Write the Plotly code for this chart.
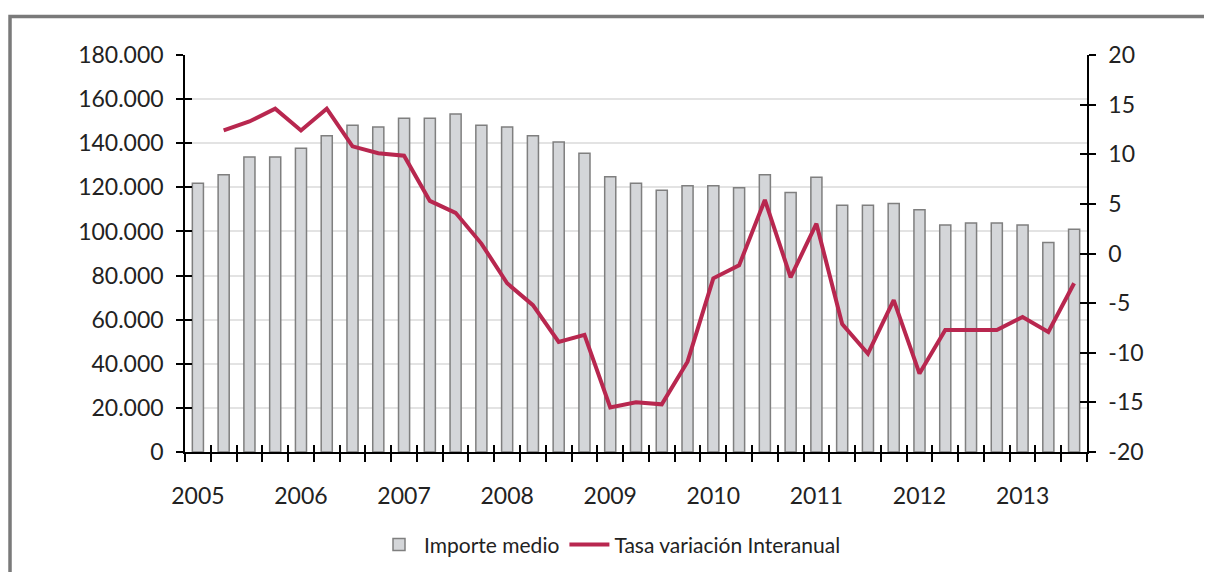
import plotly.graph_objects as go

# Quarterly periods 2005Q1 .. 2013Q3
periods = [f"{y}T{q}" for y in range(2005, 2014) for q in range(1, 5)][:35]
year_labels = ["2005", "2006", "2007", "2008", "2009", "2010", "2011", "2012", "2013"]

importe_medio = [121800, 125700, 133700, 133700, 137700, 143400, 148200, 147300,
                 151300, 151300, 153200, 148200, 147300, 143400, 140500, 135400,
                 124800, 121800, 118700, 120700, 120700, 119800, 125700, 117700,
                 124600, 111900, 111900, 112700, 109800, 102900, 103800, 103800,
                 102900, 95000, 101000]

# Year-on-year rate (starts at the second period)
tasa_var = [None, 12.4, 13.3, 14.6, 12.4, 14.6, 10.8, 10.1, 9.85, 5.3, 4.1, 1.0,
            -3.0, -5.2, -8.9, -8.2, -15.5, -15.0, -15.2, -10.9, -2.5, -1.2, 5.4,
            -2.4, 3.0, -7.1, -10.1, -4.7, -12.1, -7.7, -7.7, -7.7, -6.4, -7.9, -3.0]

left_ticks = [0, 20000, 40000, 60000, 80000, 100000, 120000, 140000, 160000, 180000]
right_ticks = [-20, -15, -10, -5, 0, 5, 10, 15, 20]
right_labels = ["-20", "-15", "-10", "-5", "0", "5", "10", "15", "20"]

idx = list(range(len(periods)))
year_pos = [i for i in idx if periods[i].endswith("T1")]
boundaries = [i - 0.5 for i in idx] + [len(idx) - 0.5]
xr = [-0.5, len(idx) - 0.5]

FONT = "Lato"
BAR_FILL = "#d4d6d9"
BAR_LINE = "#7f7f7f"
LINE_COL = "#b8274f"

fig = go.Figure()
fig.add_trace(go.Bar(x=idx, y=importe_medio, name="Importe medio",
                     marker=dict(color=BAR_FILL, line=dict(color=BAR_LINE, width=1.5)),
                     width=0.43, xaxis="x", yaxis="y"))
fig.add_trace(go.Scatter(x=idx, y=tasa_var, name="Tasa variación Interanual",
                         mode="lines", line=dict(color=LINE_COL, width=4),
                         xaxis="x", yaxis="y2", connectgaps=False))
# helper empty traces so the tick-only overlay axes get drawn
for xa, ya in [("x2", "y"), ("x3", "y"), ("x", "y3"), ("x", "y4")]:
    fig.add_trace(go.Scatter(x=[None], y=[None], xaxis=xa, yaxis=ya,
                             showlegend=False, hoverinfo="skip", mode="lines"))

tickfont = dict(family=FONT, size=23, color="#222222")

fig.update_layout(
    width=1204, height=564,
    margin=dict(l=177, r=125, t=47, b=120),
    paper_bgcolor="white", plot_bgcolor="white",
    separators=",.",
    showlegend=True,
    legend=dict(orientation="h", x=0.5, xanchor="center", xref="container",
                y=0.048, yanchor="middle", yref="container",
                font=dict(family=FONT, size=21, color="#222222"),
                itemwidth=40, tracegroupgap=0),
    xaxis=dict(range=xr, tickmode="array", tickvals=year_pos, ticktext=year_labels,
               ticks="", showgrid=False, zeroline=False, showline=True,
               linecolor="black", linewidth=1.5, tickfont=tickfont,
               ticklabelstandoff=23),
    xaxis2=dict(range=xr, overlaying="x", anchor="y", side="bottom",
                tickmode="array", tickvals=boundaries, ticks="outside", ticklen=9,
                tickwidth=1.5, tickcolor="black", showticklabels=False,
                showgrid=False, zeroline=False, showline=False),
    xaxis3=dict(range=xr, overlaying="x", anchor="y", side="bottom",
                tickmode="array", tickvals=boundaries, ticks="inside", ticklen=7,
                tickwidth=1.5, tickcolor="black", showticklabels=False,
                showgrid=False, zeroline=False, showline=False),
    yaxis=dict(range=[0, 180000], tickmode="array", tickvals=left_ticks,
               tickformat=",d", ticks="outside", ticklen=7, tickwidth=1.5,
               tickcolor="black", showline=True, linecolor="black", linewidth=1.5,
               showgrid=True, gridcolor="#e3e3e3", gridwidth=1.5, zeroline=False,
               tickfont=tickfont, ticklabelstandoff=8),
    yaxis2=dict(range=[-20, 20], overlaying="y", side="right", anchor="x",
                tickmode="array", tickvals=right_ticks, ticktext=right_labels,
                ticks="outside", ticklen=7,
                tickwidth=1.5, tickcolor="black", showline=True, linecolor="black",
                linewidth=1.5, showgrid=False, zeroline=False, tickfont=tickfont,
                ticklabelstandoff=8),
    yaxis3=dict(range=[0, 180000], overlaying="y", side="left", anchor="x",
                tickmode="array", tickvals=left_ticks, ticks="inside", ticklen=7,
                tickwidth=1.5, tickcolor="black", showticklabels=False,
                showgrid=False, zeroline=False, showline=False),
    yaxis4=dict(range=[-20, 20], overlaying="y", side="right", anchor="x",
                tickmode="array", tickvals=right_ticks, ticks="inside", ticklen=7,
                tickwidth=1.5, tickcolor="black", showticklabels=False,
                showgrid=False, zeroline=False, showline=False),
    shapes=[dict(type="rect", xref="paper", yref="paper",
                 x0=-0.194, x1=1.3, y0=-0.5, y1=1.097,
                 line=dict(color="#7a7a7a", width=3.5), fillcolor="rgba(0,0,0,0)",
                 layer="below")],
)

fig.write_html("out.html")
